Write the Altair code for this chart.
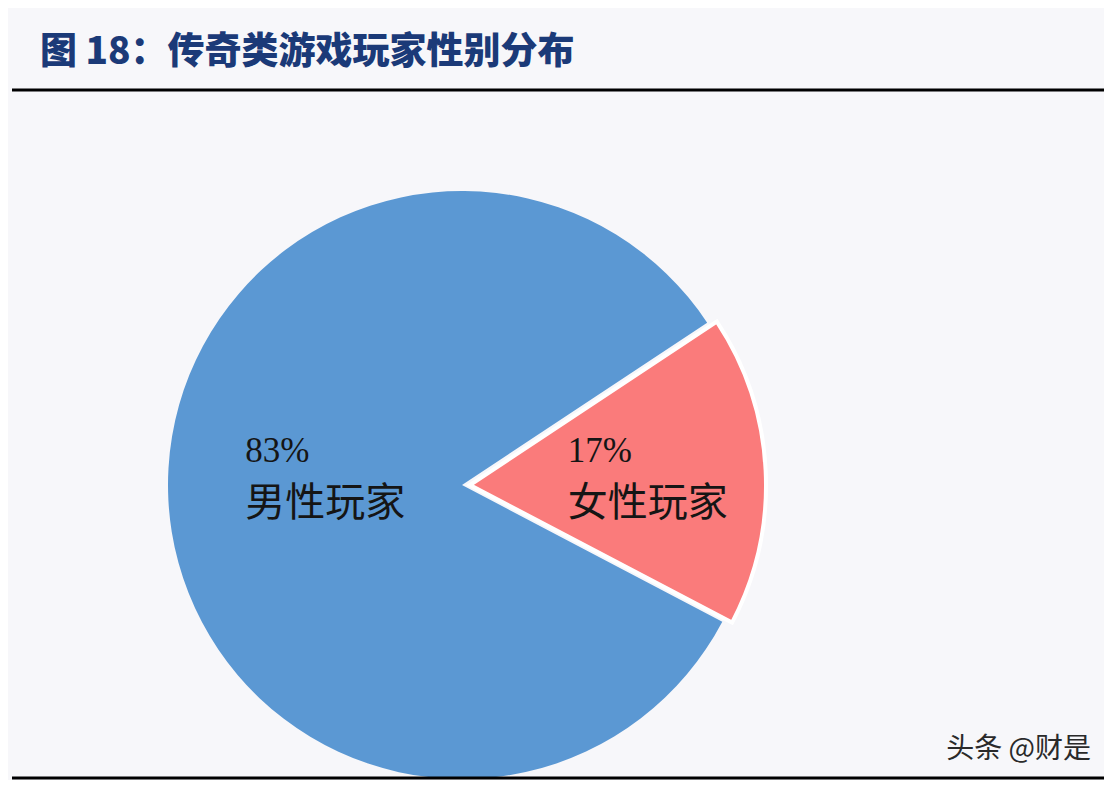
import math
import altair as alt
import pandas as pd

categories = ["女性玩家", "男性玩家"]
shares = [17, 83]
pct_labels = ["17%", "83%"]
colors = ["#FA7B7B", "#5B98D3"]

title_text = "图 18：传奇类游戏玩家性别分布"
watermark = "头条 @财是"

df = pd.DataFrame({"cat": categories, "share": shares, "pct": pct_labels})

W, H = 1096, 772
CX, CY = 454, 477
R = 294
START = math.radians(56.5)

base = alt.Chart(df).transform_window(
    end="sum(share)", frame=[None, 0]
).transform_calculate(
    start="datum.end - datum.share", mid="datum.end - datum.share/2"
)

theta_scale = alt.Scale(domain=[0, 100], range=[START, START + 2 * math.pi])
color_scale = alt.Scale(domain=categories, range=colors)

male = base.transform_filter(alt.datum.cat == "男性玩家").mark_arc(
    outerRadius=R, strokeWidth=0
).encode(
    theta=alt.Theta("start:Q", scale=theta_scale, stack=None),
    theta2="end:Q",
    color=alt.Color("cat:N", scale=color_scale, legend=None),
    x=alt.value(CX), y=alt.value(CY),
)

female = base.transform_filter(alt.datum.cat == "女性玩家").mark_arc(
    outerRadius=R + 2, stroke="white", strokeWidth=4, strokeJoin="miter"
).encode(
    theta=alt.Theta("start:Q", scale=theta_scale, stack=None),
    theta2="end:Q",
    color=alt.Color("cat:N", scale=color_scale, legend=None),
    x=alt.value(CX + 8), y=alt.value(CY),
)

def labels(cat, radius, dx_center, dy_pct, dy_name):
    b = base.transform_filter(alt.datum.cat == cat)
    enc = dict(
        theta=alt.Theta("mid:Q", scale=theta_scale, stack=None),
        x=alt.value(CX + dx_center), y=alt.value(CY),
    )
    p = b.mark_text(radius=radius, align="left", baseline="middle", dy=dy_pct,
                    font="Liberation Serif", fontSize=35, color="#151515").encode(
        text="pct:N", **enc)
    n = b.mark_text(radius=radius, align="left", baseline="middle", dy=dy_name,
                    font="Noto Sans CJK SC", fontSize=40, color="#151515"
                    ).encode(text="cat:N", **enc)
    return p + n

male_lbl = labels("男性玩家", 217, 0, -45, 8)
female_lbl = labels("女性玩家", 98, 8, -29, 24)

title = alt.Chart(pd.DataFrame({"t": [title_text]})).mark_text(
    align="left", baseline="middle", font="Noto Sans CJK SC", fontSize=37,
    fontWeight=900, color="#1B3A78"
).encode(text="t:N", x=alt.value(32), y=alt.value(45))

wm = alt.Chart(pd.DataFrame({"t": [watermark]})).mark_text(
    align="right", baseline="middle", font="Noto Sans CJK SC", fontSize=28,
    color="#2a2a2a"
).encode(text="t:N", x=alt.value(1083), y=alt.value(742))

top_rule = alt.Chart(pd.DataFrame({"a": [0]})).mark_rule(
    color="black", strokeWidth=3
).encode(x=alt.value(4), x2=alt.value(W), y=alt.value(82))

bot_rule = alt.Chart(pd.DataFrame({"a": [0]})).mark_rule(
    color="black", strokeWidth=3
).encode(x=alt.value(4), x2=alt.value(W), y=alt.value(770))

chart = alt.layer(
    male, female, male_lbl, female_lbl, title, wm, top_rule, bot_rule
).properties(
    width=W, height=H, padding=0, autosize=alt.AutoSizeParams(type="none"),
    background="#F7F7FA"
).configure_view(stroke=None)

chart.save("out.html", embed_options={"renderer": "svg", "actions": False})
